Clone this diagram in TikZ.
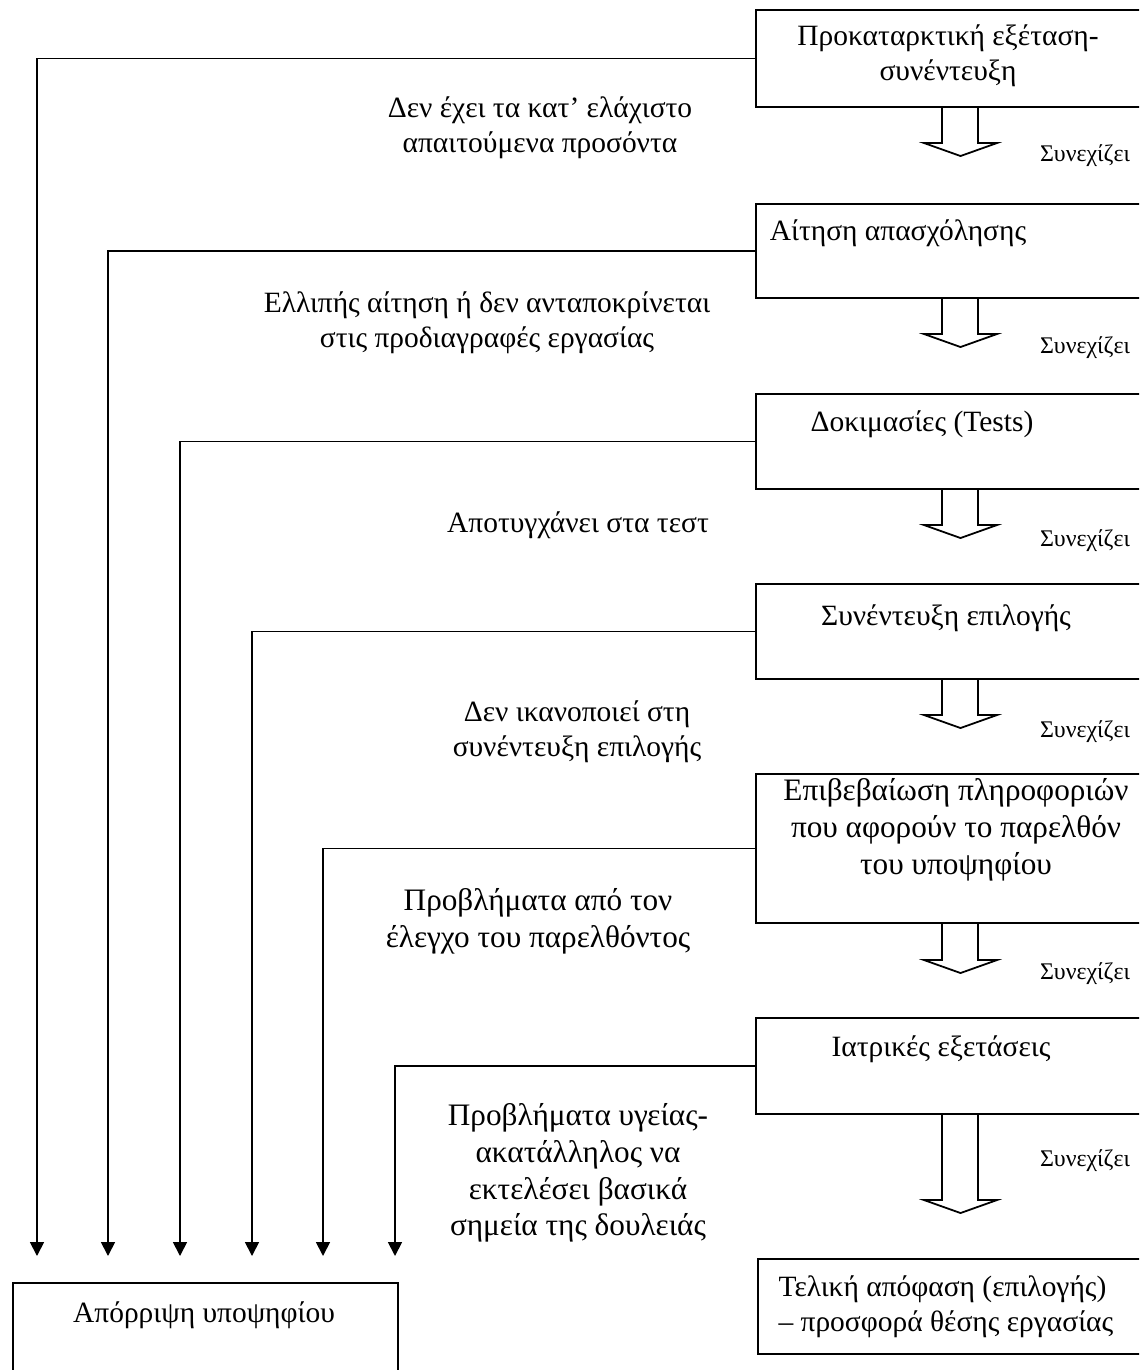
\documentclass[tikz,border=0pt]{standalone}
\usepackage{fontspec}
\setmainfont{Liberation Serif}
\usetikzlibrary{arrows.meta}
\newcommand{\pxu}{0.3937pt}
\tikzset{
  box/.style={draw, line width=0.8pt, inner sep=0pt, anchor=north west, minimum width={400*\pxu}},
  txt/.style={inner sep=0pt, align=center, font=\fontsize{11.6}{13.8}\selectfont},
  bigtxt/.style={inner sep=0pt, align=center, font=\fontsize{12.3}{14.45}\selectfont},
  small/.style={inner sep=0pt, font=\fontsize{9.4}{10}\selectfont},
  reject/.style={-{Triangle[length=5.5pt,width=5.5pt]}, line width=0.7pt},
  hollow/.style={line width=0.7pt}
}
\newcommand{\contarrow}[2]{\draw[hollow] (#1.south west) ++(187,0) -- ++(0,#2) -- ++(-18,0) -- ++(36.5,13) -- ++(36.5,-13) -- ++(-19,0) -- ++(0,-#2);}
\begin{document}
\begin{tikzpicture}[x=0.3937pt, y=-0.3937pt]
    \useasboundingbox (0,0) rectangle (1139,1370);
    \clip (0,0) rectangle (1139,1370);

    \draw (755,9) node[box, minimum height={97*\pxu}] (prelim) {};
    \draw (755,203) node[box, minimum height={94*\pxu}] (appl) {};
    \draw (755,393) node[box, minimum height={95*\pxu}] (tests) {};
    \draw (755,583) node[box, minimum height={95*\pxu}] (interv) {};
    \draw (755,773) node[box, minimum height={149*\pxu}] (verif) {};
    \draw (755,1017) node[box, minimum height={96*\pxu}] (medic) {};
    \draw (757,1258) node[box, minimum height={95*\pxu}] (final) {};
    \draw (12,1282) node[box, minimum width={385*\pxu}, minimum height={130*\pxu}] (reject) {};

    \draw (948,56) node[txt] (tprelim) {Προκαταρκτική εξέταση-\\συνέντευξη};
    \draw (898,233) node[txt] (tappl) {Αίτηση απασχόλησης};
    \draw (922,424) node[txt] (ttests) {Δοκιμασίες (Tests)};
    \draw (946,618) node[txt] (tinterv) {Συνέντευξη επιλογής};
    \draw (956,830) node[bigtxt] (tverif) {Επιβεβαίωση πληροφοριών\\που αφορούν το παρελθόν\\του υποψηφίου};
    \draw (941,1049) node[txt] (tmedic) {Ιατρικές εξετάσεις};
    \draw (778,1307) node[txt, anchor=west, align=left] (tfinal) {Τελική απόφαση (επιλογής)\\– προσφορά θέσης εργασίας};
    \draw (204,1315) node[txt] (treject) {Απόρριψη υποψηφίου};

    \draw (540,128) node[txt] (l1) {Δεν έχει τα κατ’ ελάχιστο\\απαιτούμενα προσόντα};
    \draw (487,323) node[txt] (l2) {Ελλιπής αίτηση ή δεν ανταποκρίνεται\\στις προδιαγραφές εργασίας};
    \draw (578,525) node[txt] (l3) {Αποτυγχάνει στα τεστ};
    \draw (577,732) node[txt] (l4) {Δεν ικανοποιεί στη\\συνέντευξη επιλογής};
    \draw (538,921) node[bigtxt] (l5) {Προβλήματα από τον\\έλεγχο του παρελθόντος};
    \draw (578,1173) node[bigtxt] (l6) {Προβλήματα υγείας-\\ακατάλληλος να\\εκτελέσει βασικά\\σημεία της δουλειάς};

    \coordinate (r1) at (37,1256);
    \coordinate (r2) at (108,1256);
    \coordinate (r3) at (180,1256);
    \coordinate (r4) at (252,1256);
    \coordinate (r5) at (323,1256);
    \coordinate (r6) at (395,1256);

    \draw[reject] (prelim.west) -| (r1);
    \draw[reject] (appl.west) -| (r2);
    \draw[reject] (tests.west) -| (r3);
    \draw[reject] (interv.west) -| (r4);
    \draw[reject] (verif.west) -| (r5);
    \draw[reject] (medic.west) -| (r6);

    \contarrow{prelim}{35}
    \contarrow{appl}{35}
    \contarrow{tests}{35}
    \contarrow{interv}{35}
    \contarrow{verif}{36}
    \contarrow{medic}{85}

    \draw (1085,156) node[small] (s1) {Συνεχίζει};
    \draw (1085,348) node[small] (s2) {Συνεχίζει};
    \draw (1085,541) node[small] (s3) {Συνεχίζει};
    \draw (1085,732) node[small] (s4) {Συνεχίζει};
    \draw (1085,974) node[small] (s5) {Συνεχίζει};
    \draw (1085,1161) node[small] (s6) {Συνεχίζει};
\end{tikzpicture}
\end{document}
